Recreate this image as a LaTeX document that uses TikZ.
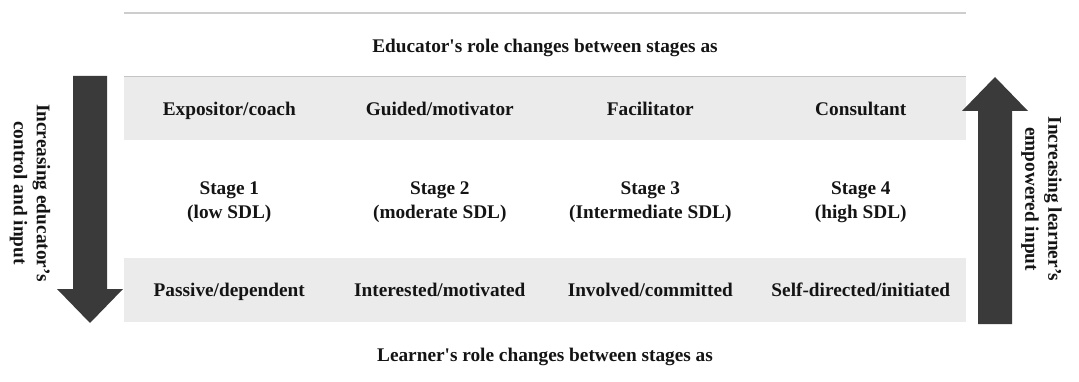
\documentclass[tikz,border=0pt]{standalone}
\usepackage{fontspec}
\setmainfont{Liberation Serif}
\definecolor{bandgray}{HTML}{EBEBEB}
\definecolor{rulegray}{HTML}{CDCDCD}
\definecolor{edgegray}{HTML}{C4C4C4}
\definecolor{arrowgray}{HTML}{3A3A3A}
\definecolor{ink}{HTML}{141414}
\begin{document}
\begin{tikzpicture}[x=1pt,y=-1pt,
  txt/.style={font=\fontsize{19.3}{24}\selectfont\bfseries, text=ink, align=center, inner sep=0pt, anchor=base},
  sidetxt/.style={font=\fontsize{19.3}{23}\selectfont\bfseries, text=ink, align=center, inner sep=0pt, rotate=-90},
  band/.style={fill=bandgray, draw=none},
  bigarrow/.style={fill=arrowgray, draw=none}]
\useasboundingbox (0,0) rectangle (1079,382);

% top rule
\draw[rulegray, line width=2pt] (124,13) -- (966,13);

% shaded bands for the educator and learner roles
\fill[band] (124,76) rectangle (966,140);
\draw[edgegray, line width=1.5pt] (124,76.5) -- (966,76.5);
\fill[band] (124,258) rectangle (966,322);

% headings (placed on their baselines)
\node[txt] (edutitle) at (545,52.5) {Educator\textquotesingle s role changes between stages as};
\node[txt] (lrntitle) at (545,361.5) {Learner\textquotesingle s role changes between stages as};

% educator roles
\node[txt] (e1) at (229.3,115.5) {Expositor/coach};
\node[txt] (e2) at (439.8,115.5) {Guided/motivator};
\node[txt] (e3) at (650.3,115.5) {Facilitator};
\node[txt] (e4) at (860.8,115.5) {Consultant};

% stages (base anchor sits on the last line)
\node[txt] (s1) at (229.3,218.5) {Stage 1\\(low SDL)};
\node[txt] (s2) at (439.8,218.5) {Stage 2\\(moderate SDL)};
\node[txt] (s3) at (650.3,218.5) {Stage 3\\(Intermediate SDL)};
\node[txt] (s4) at (860.8,218.5) {Stage 4\\(high SDL)};

% learner roles
\node[txt] (l1) at (229.3,296.5) {Passive/dependent};
\node[txt] (l2) at (439.8,296.5) {Interested/motivated};
\node[txt] (l3) at (650.3,296.5) {Involved/committed};
\node[txt] (l4) at (860.8,296.5) {Self-directed/initiated};

% downward arrow: educator control
\fill[bigarrow] (73,76) -- (107,76) -- (107,289) -- (123,289) -- (90,323)
  -- (57,289) -- (73,289) -- cycle;
\node[sidetxt] (lefttxt) at (30,193) {Increasing educator’s\\control and input};

% upward arrow: learner input
\fill[bigarrow] (978,324) -- (1012,324) -- (1012,111) -- (1028,111) -- (995,77)
  -- (962,111) -- (978,111) -- cycle;
\node[sidetxt] (righttxt) at (1041.5,199) {Increasing learner’s\\empowered input};
\end{tikzpicture}
\end{document}
